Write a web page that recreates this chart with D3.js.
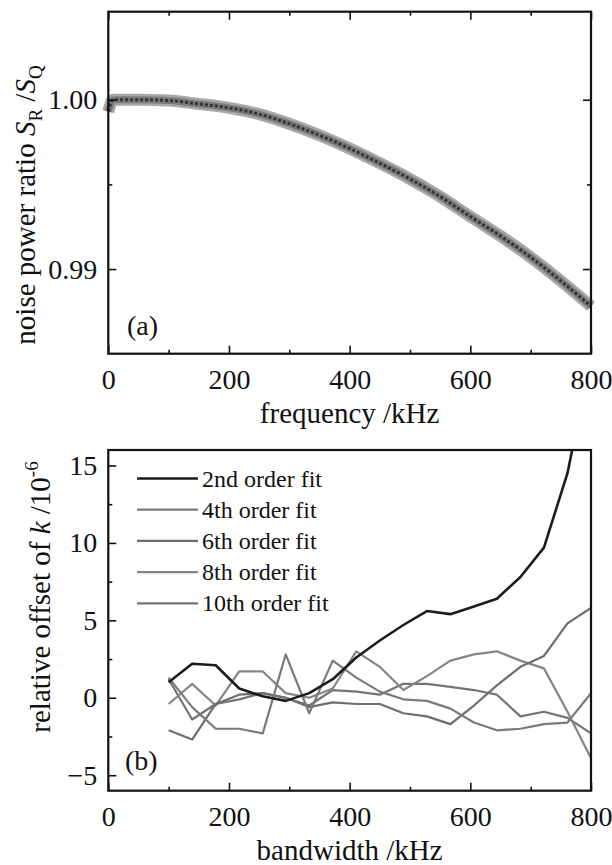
<!DOCTYPE html>
<html>
<head>
<meta charset="utf-8">
<script src="https://cdn.jsdelivr.net/npm/d3@7"></script>
<style>
	body { margin: 0; background: #fff; }
	svg text, svg tspan { font-family: 'Liberation Serif' !important; }
</style>
</head>
<body>
<svg id="chart" width="612" height="865"></svg>
<script>
// panel (a): noise power ratio against frequency
const frequency = [0, 8, 50, 100, 150, 200, 250, 300, 350, 400, 450, 500, 550, 600, 650, 700, 750, 800];
const powerRatio = [0.9993, 1.0000, 1.0000, 0.99995, 0.99975, 0.99952, 0.99915, 0.99858, 0.99790, 0.99712, 0.99625, 0.99532, 0.99428, 0.99310, 0.99195, 0.99070, 0.98930, 0.98780];
const freqTicks = [0, 200, 400, 600, 800];
const freqMinorTicks = [100, 300, 500, 700];
const ratioTicks = [0.99, 1.00];
const ratioMinorTicks = [0.995];

// panel (b): relative offset of k for each fit order
const bandwidth = [100, 139, 178, 217, 256, 294, 333, 372, 411, 450, 489, 528, 567, 606, 644, 683, 722, 761, 800];
const fit2 = [1.0, 2.2, 2.1, 0.6, 0.1, -0.2, 0.3, 1.2, 2.6, 3.7, 4.7, 5.6, 5.4, 5.9, 6.4, 7.8, 9.7, 14.5, 22.0];
const fit4 = [1.3, -0.6, -2.0, -2.0, -2.3, 2.8, -1.0, 2.4, 1.3, 0.4, -0.1, -0.2, -0.7, -1.6, -2.1, -2.0, -1.7, -1.6, 0.3];
const fit6 = [-2.1, -2.7, -0.4, 0.2, 0.3, 0.0, -0.6, -0.3, -0.4, -0.4, -1.0, -1.2, -1.7, -0.5, 0.8, 2.0, 2.7, 4.8, 5.8];
const fit8 = [-0.4, 0.9, -0.5, 1.7, 1.7, 0.3, 0.0, 0.6, 3.0, 2.0, 0.5, 1.4, 2.4, 2.8, 3.0, 2.4, 1.9, -0.9, -3.9];
const fit10 = [1.2, -1.4, -0.4, -0.1, 0.3, 0.0, -0.5, 0.5, 0.4, 0.2, 0.9, 0.9, 0.7, 0.5, 0.2, -1.2, -0.9, -1.3, -2.3];
const fitNames = ["2nd order fit", "4th order fit", "6th order fit", "8th order fit", "10th order fit"];
const fitColors = ["#1c1c1c", "#7a7a7a", "#6e6e6e", "#858585", "#747474"];
const bwTicks = [0, 200, 400, 600, 800];
const bwMinorTicks = [100, 300, 500, 700];
const offsetTicks = [-5, 0, 5, 10, 15];
const offsetMinorTicks = [-2.5, 2.5, 7.5, 12.5];

const svg = d3.select("#chart");
const left = 108.3, right = 591;
const serif = "Liberation Serif";

function label(g, x, y, size, txt) {
	return g.append("text")
		.attr("x", x).attr("y", y)
		.attr("fill", "#111")
		.attr("font-size", size)
		.attr("font-family", serif)
		.text(txt);
}

function frame(g, x, y) {
	g.append("rect")
		.attr("x", x.range()[0])
		.attr("y", y.range()[1])
		.attr("width", x.range()[1] - x.range()[0])
		.attr("height", y.range()[0] - y.range()[1])
		.attr("fill", "none")
		.attr("stroke", "#111")
		.attr("stroke-width", 2.2);
}

function ticks(g, axis, pos, values, size, fmt, pad) {
	let a = axis.tickValues(values).tickSize(size).tickPadding(pad);
	a.tickFormat(fmt ? fmt : "");
	let t = g.append("g").attr("transform", pos).call(a);
	t.attr("font-family", serif).attr("font-size", 28);
	t.select(".domain").remove();
	t.selectAll("line").attr("stroke", "#111").attr("stroke-width", 1.6);
	t.selectAll("text").attr("fill", "#111");
	return t;
}

// ---------- panel (a)
const xa = d3.scaleLinear().domain([0, 800]).range([left, right]);
const ya = d3.scaleLinear().domain([0.985, 1.0052]).range([353.7, 11.7]);
const ga = svg.append("g");

let lineA = d3.line()
	.x(function(d, i) { return xa(frequency[i]); })
	.y(function(d) { return ya(d); })
	.curve(d3.curveMonotoneX);

// measured trace drawn as a thick grey band with a darker core
ga.append("path").attr("d", lineA(powerRatio))
	.attr("fill", "none").attr("stroke", "#a8a8a8").attr("stroke-width", 12);
ga.append("path").attr("d", lineA(powerRatio))
	.attr("fill", "none").attr("stroke", "#7c7c7c").attr("stroke-width", 7);
ga.append("path").attr("d", lineA(powerRatio))
	.attr("fill", "none").attr("stroke", "#333").attr("stroke-width", 3)
	.attr("stroke-dasharray", "3,2");

frame(ga, xa, ya);
ticks(ga, d3.axisBottom(xa), "translate(0,353.7)", freqTicks, -8, d3.format("d"), 15);
ticks(ga, d3.axisBottom(xa), "translate(0,353.7)", freqMinorTicks, -4, null, 0);
ticks(ga, d3.axisTop(xa), "translate(0,11.7)", freqTicks, -8, null, 0);
ticks(ga, d3.axisTop(xa), "translate(0,11.7)", freqMinorTicks, -4, null, 0);
ticks(ga, d3.axisLeft(ya), "translate(" + left + ",0)", ratioTicks, -8, d3.format(".2f"), 11);
ticks(ga, d3.axisLeft(ya), "translate(" + left + ",0)", ratioMinorTicks, -4, null, 0);
ticks(ga, d3.axisRight(ya), "translate(" + right + ",0)", ratioTicks, -8, null, 0);
ticks(ga, d3.axisRight(ya), "translate(" + right + ",0)", ratioMinorTicks, -4, null, 0);

label(ga, 127, 335, 28, "(a)");
label(ga, (left + right) / 2, 423, 29, "frequency /kHz").attr("text-anchor", "middle");

let ta = label(ga, 0, 0, 29, null)
	.attr("transform", "translate(35,205) rotate(-90)")
	.attr("text-anchor", "middle");
ta.append("tspan").text("noise power ratio ");
ta.append("tspan").attr("font-style", "italic").text("S");
ta.append("tspan").attr("font-size", 19).attr("dy", 7).text("R");
ta.append("tspan").attr("dy", -7).text(" /");
ta.append("tspan").attr("font-style", "italic").text("S");
ta.append("tspan").attr("font-size", 19).attr("dy", 7).text("Q");

// ---------- panel (b)
const xb = d3.scaleLinear().domain([0, 800]).range([left, right]);
const yb = d3.scaleLinear().domain([-6, 16]).range([790.7, 450]);
const gb = svg.append("g");

gb.append("clipPath").attr("id", "clipB")
	.append("rect")
	.attr("x", left).attr("y", 450)
	.attr("width", right - left).attr("height", 790.7 - 450);

let lineB = d3.line()
	.x(function(d, i) { return xb(bandwidth[i]); })
	.y(function(d) { return yb(d); });

const fits = [fit2, fit4, fit6, fit8, fit10];
gb.append("g").attr("clip-path", "url(#clipB)")
	.selectAll("path")
	.data(fits.slice().reverse())
	.enter()
	.append("path")
	.attr("d", function(d) { return lineB(d); })
	.attr("fill", "none")
	.attr("stroke", function(d) { return fitColors[fits.indexOf(d)]; })
	.attr("stroke-width", function(d) { return d === fit2 ? 2.6 : 2.2; })
	.attr("stroke-linejoin", "round");

frame(gb, xb, yb);
ticks(gb, d3.axisBottom(xb), "translate(0,790.7)", bwTicks, -8, d3.format("d"), 15);
ticks(gb, d3.axisBottom(xb), "translate(0,790.7)", bwMinorTicks, -4, null, 0);
ticks(gb, d3.axisLeft(yb), "translate(" + left + ",0)", offsetTicks, -8, d3.format("d"), 11);
ticks(gb, d3.axisLeft(yb), "translate(" + left + ",0)", offsetMinorTicks, -4, null, 0);

// legend
let legend = gb.append("g")
	.selectAll("g")
	.data(fitNames)
	.enter()
	.append("g")
	.attr("transform", function(d, i) { return "translate(137," + (478.5 + i * 31.2) + ")"; });
legend.append("line")
	.attr("x1", 0).attr("x2", 61)
	.attr("stroke", function(d, i) { return fitColors[i]; })
	.attr("stroke-width", function(d, i) { return i === 0 ? 2.6 : 2.2; });
legend.append("text")
	.attr("x", 65).attr("y", 8)
	.attr("fill", "#111")
	.attr("font-size", 24)
	.attr("font-family", serif)
	.text(function(d) { return d; });

label(gb, 125, 770, 28, "(b)");
label(gb, (left + right) / 2, 860, 29, "bandwidth /kHz").attr("text-anchor", "middle");

let tb = label(gb, 0, 0, 29, null)
	.attr("transform", "translate(50,597) rotate(-90)")
	.attr("text-anchor", "middle");
tb.append("tspan").text("relative offset of ");
tb.append("tspan").attr("font-style", "italic").text("k");
tb.append("tspan").text(" /10");
tb.append("tspan").attr("font-size", 19).attr("dy", -12).text("-6");
</script>
</body>
</html>
